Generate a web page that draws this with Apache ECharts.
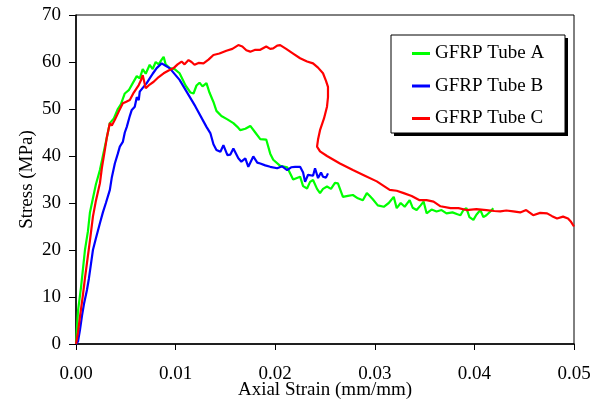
<!DOCTYPE html>
<html><head><meta charset="utf-8">
<script src="https://cdn.jsdelivr.net/npm/echarts@6/dist/echarts.min.js"></script>
<style>html,body{margin:0;padding:0;background:#fff}#c{width:601px;height:400px}</style>
</head><body><div id="c"></div>
<script>
const seriesNames = ['GFRP Tube A', 'GFRP Tube B', 'GFRP Tube C'];
const xTicks = ['0.00', '0.01', '0.02', '0.03', '0.04', '0.05'];
const tubeA = [[0,0],[0.0002,7],[0.0005,12],[0.0007,16],[0.0009,20],[0.0012,24],[0.0014,28],[0.0017,31],[0.0020,34],[0.0024,37],[0.0027,40],[0.0030,43],[0.0034,47],[0.0038,48],[0.0042,50],[0.0045,51],[0.0049,53.3],[0.0053,54],[0.0057,55.5],[0.0061,57],[0.0064,56.5],[0.0067,58.5],[0.0070,57.5],[0.0074,59.4],[0.0077,58.5],[0.0080,60],[0.0083,59.5],[0.0086,60.5],[0.0088,61.1],[0.0090,59.5],[0.0094,58.7],[0.0099,58.5],[0.0104,57.6],[0.0110,55],[0.0115,53.5],[0.0118,53.3],[0.0121,55],[0.0124,55.6],[0.0127,54.8],[0.0131,55.5],[0.0134,53.5],[0.0138,51.5],[0.0141,49.6],[0.0146,48.5],[0.0152,47.8],[0.0158,47.0],[0.0162,46.2],[0.0165,45.5],[0.0170,45.8],[0.0175,46.4],[0.0180,45],[0.0185,43.6],[0.0191,43.5],[0.0195,40.5],[0.0198,39.2],[0.0205,37.9],[0.0212,37.6],[0.0218,35],[0.0225,35.6],[0.0228,33.6],[0.0232,33.1],[0.0235,34.5],[0.0238,34.9],[0.0242,33],[0.0245,32.1],[0.0248,33],[0.0252,33.5],[0.0256,33],[0.0260,34.3],[0.0263,34.2],[0.0268,31.3],[0.0273,31.5],[0.0278,31.7],[0.0283,31],[0.0288,30.6],[0.0292,32.1],[0.0295,31.5],[0.0298,30.8],[0.0303,29.5],[0.0309,29.2],[0.0314,30],[0.0319,31.3],[0.0322,28.9],[0.0326,30],[0.0330,29.2],[0.0335,30.6],[0.0338,29],[0.0342,28.5],[0.0346,29.5],[0.0349,30.3],[0.0352,27.8],[0.0357,28.6],[0.0362,28.2],[0.0367,28.5],[0.0372,27.8],[0.0378,28],[0.0383,27.6],[0.0386,27.4],[0.0389,28.5],[0.0392,28.9],[0.0395,27],[0.0399,26.4],[0.0402,27.5],[0.0406,28.5],[0.0409,27],[0.0412,27.4],[0.0416,28.2],[0.0419,28.9]];
const tubeB = [[0,0],[0.0002,0.5],[0.0004,3],[0.0006,6],[0.0008,8.5],[0.0011,11.5],[0.0013,14],[0.0015,17],[0.0017,20],[0.0020,22.5],[0.0024,25.7],[0.0027,28],[0.0030,30],[0.0034,32.8],[0.0036,35.5],[0.0039,38.4],[0.0042,40.5],[0.0044,42],[0.0047,43],[0.0049,45],[0.0051,46.2],[0.0054,48.5],[0.0056,49.8],[0.0059,50.5],[0.0061,52.5],[0.0063,51.9],[0.0064,53.7],[0.0067,54.5],[0.0069,54.2],[0.0071,55.5],[0.0074,56.5],[0.0077,57.5],[0.0079,57.8],[0.0081,58.7],[0.0083,58.3],[0.0086,59.7],[0.0088,60.1],[0.0090,59.2],[0.0094,58.7],[0.0104,56.2],[0.0120,50.5],[0.0131,46.2],[0.0135,44.8],[0.0138,42.5],[0.0141,41.3],[0.0145,40.9],[0.0148,42.3],[0.0152,40.2],[0.0155,40.3],[0.0158,41.6],[0.0163,39.5],[0.0166,38.8],[0.0170,39.5],[0.0173,37.7],[0.0178,39.9],[0.0182,38.6],[0.0185,38.4],[0.0190,38],[0.0195,37.7],[0.0202,37.4],[0.0207,37.8],[0.0212,37],[0.0216,37.6],[0.0220,37.7],[0.0225,37.7],[0.0228,36.5],[0.0230,34.5],[0.0233,36],[0.0235,36.3],[0.0238,35.8],[0.0240,37.4],[0.0243,35.3],[0.0246,36.5],[0.0248,35.6],[0.0251,35.4],[0.0253,36.3]];
const tubeC = [[0,0],[0.0002,2.5],[0.0004,5.8],[0.0007,10.5],[0.0009,14],[0.0011,17.2],[0.0014,22],[0.0017,27.1],[0.0020,30.5],[0.0024,34.2],[0.0026,37.5],[0.0029,41.3],[0.0031,44],[0.0034,47],[0.0036,46.5],[0.0039,47.7],[0.0043,49.5],[0.0047,51.2],[0.0050,51.5],[0.0054,51.9],[0.0058,53.5],[0.0063,55.1],[0.0065,56],[0.0067,57.2],[0.0070,54.4],[0.0074,55.2],[0.0078,55.8],[0.0083,56.8],[0.0088,57.6],[0.0093,58.2],[0.0098,58.7],[0.0102,59.5],[0.0106,60.1],[0.0109,59.5],[0.0113,60.4],[0.0116,60],[0.0119,59.4],[0.0123,59.8],[0.0128,59.7],[0.0133,60.5],[0.0138,61.5],[0.0144,61.8],[0.0151,62.4],[0.0157,62.8],[0.0163,63.6],[0.0167,63.3],[0.0171,62.5],[0.0175,62.2],[0.0180,62.6],[0.0185,62.6],[0.0191,63.3],[0.0195,62.8],[0.0198,62.9],[0.0202,63.5],[0.0205,63.6],[0.0211,62.8],[0.0218,61.8],[0.0225,60.8],[0.0232,60.1],[0.0238,59.7],[0.0243,58.8],[0.0248,57.6],[0.0251,56],[0.0253,54.7],[0.0253,52.5],[0.0252,50.5],[0.0249,48],[0.0245,45.5],[0.0243,43.5],[0.0242,42],[0.0245,41],[0.0252,40],[0.0265,38.4],[0.0278,37],[0.0290,35.8],[0.0302,34.6],[0.0310,33.5],[0.0315,32.8],[0.0322,32.6],[0.0329,32.1],[0.0337,31.5],[0.0345,30.6],[0.0352,30.6],[0.0359,30.3],[0.0366,29.3],[0.0376,28.9],[0.0384,28.9],[0.0392,28.5],[0.0402,28.7],[0.0412,28.5],[0.0420,28.3],[0.0426,28.2],[0.0432,28.4],[0.0439,28.2],[0.0446,28],[0.0452,28.5],[0.0459,27.4],[0.0466,27.9],[0.0473,27.8],[0.0478,27.2],[0.0483,26.7],[0.0489,27.1],[0.0494,26.7],[0.0497,26],[0.0500,25]];
const colors = ['#00ff00', '#0000ff', '#ff0000'];
const dataSets = [tubeA, tubeB, tubeC];

const font = 'Liberation Serif';
const chart = echarts.init(document.getElementById('c'));
chart.setOption({
  animation: false,
  backgroundColor: '#fff',
  grid: { left: 76, right: 27, top: 15, bottom: 56, containLabel: false, outerBoundsMode: 'none', show: true, borderColor: '#000', borderWidth: 1, backgroundColor: 'transparent' },
  graphic: [
    { type: 'rect', shape: { x: 394, y: 38, width: 174, height: 98 }, style: { fill: '#000' }, z: 10 },
    { type: 'rect', shape: { x: 391, y: 35, width: 174, height: 98 }, style: { fill: '#fff', stroke: '#000', lineWidth: 1 }, z: 11 }
  ],
  legend: {
    orient: 'vertical', left: 412, top: 44, z: 20,
    data: seriesNames,
    icon: 'rect', itemWidth: 18, itemHeight: 3, itemGap: 13.5,
    padding: 0,
    textStyle: { fontFamily: font, fontSize: 19, color: '#000' }
  },
  xAxis: {
    type: 'value', min: 0, max: 0.05, interval: 0.01,
    name: 'Axial Strain (mm/mm)', nameLocation: 'middle', nameGap: 37, nameMoveOverlap: false,
    nameTextStyle: { fontFamily: font, fontSize: 19, color: '#000' },
    axisLine: { lineStyle: { color: '#000', width: 1.5 } },
    axisTick: { show: true, length: 6, lineStyle: { color: '#000' } },
    axisLabel: { fontFamily: font, fontSize: 19, color: '#000', margin: 21,
      formatter: v => xTicks[Math.round(v / 0.01)] },
    splitLine: { show: false }
  },
  yAxis: {
    type: 'value', min: 0, max: 70, interval: 10,
    name: 'Stress (MPa)', nameLocation: 'middle', nameGap: 39, nameMoveOverlap: false,
    nameTextStyle: { fontFamily: font, fontSize: 19, color: '#000' },
    axisLine: { show: true, lineStyle: { color: '#000', width: 1.5 } },
    axisTick: { show: true, length: 7, lineStyle: { color: '#000' } },
    axisLabel: { fontFamily: font, fontSize: 19, color: '#000', margin: 15 },
    splitLine: { show: false }
  },
  series: seriesNames.map((n, i) => ({
    name: n, type: 'line', data: dataSets[i], showSymbol: false, symbol: 'none',
    lineStyle: { color: colors[i], width: 2.2 }, itemStyle: { color: colors[i] }
  }))
});
</script></body></html>
